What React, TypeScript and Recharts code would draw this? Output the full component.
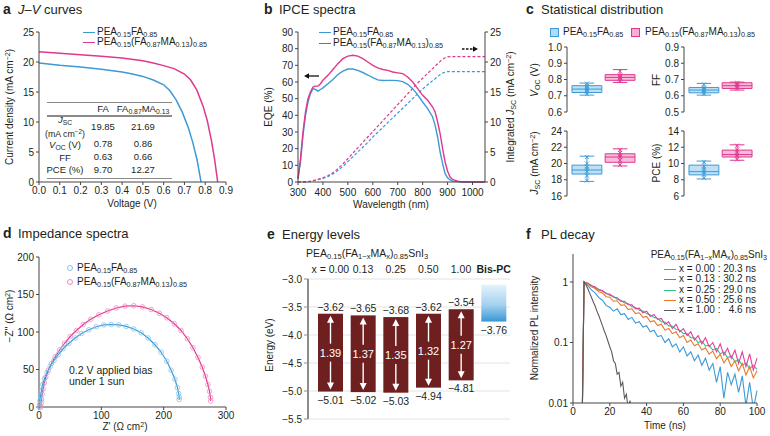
import React from "react";
import {
  LineChart,
  Line,
  XAxis,
  YAxis,
  ScatterChart,
  Scatter,
  ComposedChart,
  BarChart,
  Bar,
  ReferenceArea,
  ReferenceLine,
  CartesianGrid,
} from "recharts";

const FONT = "'Liberation Sans', Arial, Helvetica, sans-serif";
const TXT = "#231f20";
const AXIS = "#444";
const BLUE = "#3d9ad6";
const PINK = "#e0378f";

// ---- a: J-V curves ----
const jvFaVoltage = [0, 0.1, 0.2, 0.3, 0.4, 0.45, 0.5, 0.55, 0.6, 0.63, 0.66, 0.69, 0.72, 0.74, 0.76, 0.78];
const jvFaCurrent = [19.85, 19.45, 19.15, 18.8, 18.35, 18.0, 17.6, 17.0, 16.2, 15.2, 13.7, 11.6, 8.9, 6.6, 3.8, 0];
const jvMaVoltage = [0, 0.1, 0.2, 0.3, 0.4, 0.5, 0.55, 0.6, 0.65, 0.7, 0.73, 0.76, 0.79, 0.81, 0.83, 0.845, 0.86];
const jvMaCurrent = [21.69, 21.45, 21.2, 20.95, 20.65, 20.2, 19.85, 19.4, 18.9, 18.0, 17.0, 15.3, 12.6, 10.2, 6.9, 3.8, 0];
const tableLabels = ["Jsc", "Voc", "FF", "PCE"];
const tableFa = ["19.85", "0.78", "0.63", "9.70"];
const tableMa = ["21.69", "0.86", "0.66", "12.27"];

// ---- b: IPCE ----
const eqeWl = [300, 310, 320, 330, 340, 350, 360, 370, 380, 390, 400, 420, 440, 460, 480, 500, 520, 540, 560, 580, 600, 620, 640, 660, 680, 700, 720, 740, 760, 780, 800, 820, 840, 850, 860, 870, 880, 890, 900, 910, 920, 940, 960, 1000, 1050];
const eqeFa = [2, 12, 28, 40, 48, 53, 56, 55.5, 54.5, 55.5, 56.5, 59, 61.5, 64.5, 66.5, 67.8, 67.8, 67, 65.7, 64.2, 62.6, 61.3, 60.9, 61, 61, 60.8, 60.2, 58.6, 56, 52.3, 48, 44, 39, 34, 27, 18, 11, 5, 2.5, 1.2, 0.5, 0.2, 0, 0, 0];
const eqeMa = [2, 14, 30, 42, 50, 54, 57, 57.5, 57.5, 59, 61, 64, 67.5, 71, 74, 75.5, 76, 75.5, 74, 72, 70, 68.5, 67.5, 67, 66, 65.5, 65, 63, 60, 56, 52, 49, 45, 42, 36, 29, 20, 12, 6.5, 3, 1.5, 0.5, 0.1, 0, 0];
const intFa = [0, 0, 0.01, 0.03, 0.07, 0.13, 0.2, 0.3, 0.4, 0.5, 0.6, 0.9, 1.35, 1.9, 2.6, 3.4, 4.2, 5.0, 5.8, 6.6, 7.5, 8.3, 9.1, 9.9, 10.7, 11.5, 12.3, 13.1, 13.9, 14.7, 15.5, 16.2, 16.9, 17.2, 17.6, 17.9, 18.15, 18.3, 18.4, 18.4, 18.4, 18.4, 18.4, 18.4, 18.4];
const intMa = [0, 0, 0.01, 0.03, 0.08, 0.14, 0.22, 0.32, 0.43, 0.55, 0.7, 1.05, 1.55, 2.2, 3.0, 3.9, 4.8, 5.7, 6.6, 7.5, 8.4, 9.3, 10.2, 11.1, 12.0, 12.9, 13.8, 14.7, 15.6, 16.5, 17.3, 18.1, 18.9, 19.3, 19.7, 20.1, 20.45, 20.7, 20.85, 20.9, 20.9, 20.9, 20.9, 20.9, 20.9];

// ---- c: statistics [min, q1, median, q3, max] ----
const vocFa = [0.704, 0.72, 0.741, 0.762, 0.778];
const vocMa = [0.782, 0.795, 0.813, 0.83, 0.861];
const ffFa = [0.604, 0.618, 0.635, 0.651, 0.676];
const ffMa = [0.635, 0.645, 0.662, 0.68, 0.684];
const jscFa = [17.8, 18.7, 19.2, 19.8, 20.9];
const jscMa = [19.7, 20.15, 20.8, 21.2, 21.8];
const pceFa = [8.1, 8.6, 9.0, 9.8, 10.3];
const pceMa = [10.4, 10.8, 11.1, 11.65, 12.3];
const vocFaPts = [0.71, 0.725, 0.735, 0.742, 0.75, 0.76, 0.775];
const vocMaPts = [0.79, 0.8, 0.81, 0.815, 0.825, 0.85];
const ffFaPts = [0.61, 0.625, 0.635, 0.64, 0.65, 0.67];
const ffMaPts = [0.645, 0.655, 0.665, 0.67, 0.68];
const jscFaPts = [17.9, 18.5, 19.0, 19.3, 19.6, 20.0, 20.8];
const jscMaPts = [19.8, 20.4, 20.8, 21.0, 21.3, 21.7];
const pceFaPts = [8.2, 8.7, 9.0, 9.3, 9.6, 10.2];
const pceMaPts = [10.5, 10.9, 11.1, 11.4, 11.7, 12.2];

// ---- d: impedance ----
const nyqFaRe = [0.5, 1, 1.5, 2.5, 4, 6, 9, 13, 18, 24, 31, 39, 48, 58, 68, 80, 92, 104, 116, 128, 140, 152, 164, 175, 186, 196, 205, 212, 218, 222, 224, 225, 225];
const nyqFaIm = [0, 4, 9, 15, 22, 30, 38, 46, 54, 62, 70, 78, 85, 92, 98, 103, 107, 109.5, 110, 109.5, 107.5, 104, 99, 92, 83, 73, 61, 49, 37, 26, 18, 13, 10];
const nyqMaRe = [3, 3.5, 4, 5, 6.5, 8.5, 11, 15, 20, 26, 33, 41, 50, 60, 71, 83, 96, 110, 124, 138, 152, 166, 180, 193, 205, 217, 228, 238, 247, 255, 262, 267, 271, 273.5, 275, 275.5];
const nyqMaIm = [0, 5, 10, 17, 24, 32, 40, 49, 58, 67, 76, 85, 94, 102, 110, 117, 123, 128, 132, 134.5, 135, 133.5, 130, 125, 119, 111, 102, 91, 79, 66, 53, 41, 30, 21, 13, 8];

// ---- e: energy levels ----
const energyCats = ["x = 0.00", "0.13", "0.25", "0.50", "1.00", "Bis-PC"];
const lumoLevels = [-3.62, -3.65, -3.68, -3.62, -3.54, -3.76];
const homoLevels = [-5.01, -5.02, -5.03, -4.94, -4.81, -3.1];
const gapValues = [1.39, 1.37, 1.35, 1.32, 1.27, 0];

// ---- f: PL decay ----
const plTime = [5, 6, 8, 10, 12, 14, 16, 18, 20, 22, 24, 26, 28, 30, 32, 34, 36, 38, 40, 42, 44, 46, 48, 50, 52, 54, 56, 58, 60, 62, 64, 66, 68, 70, 72, 74, 76, 78, 80, 82, 84, 86, 88, 90, 92, 94, 96, 98, 100];
const plX000 = [0.005, 1.0, 0.88, 0.74, 0.66, 0.55, 0.5, 0.41, 0.38, 0.33, 0.36, 0.29, 0.3, 0.24, 0.26, 0.21, 0.22, 0.18, 0.19, 0.15, 0.16, 0.125, 0.13, 0.1, 0.115, 0.085, 0.095, 0.07, 0.085, 0.06, 0.07, 0.05, 0.062, 0.042, 0.055, 0.035, 0.045, 0.022, 0.04, 0.012, 0.032, 0.02, 0.03, 0.015, 0.028, 0.009, 0.022, 0.008, 0.016];
const plX013 = [0.005, 1.0, 0.96, 0.86, 0.83, 0.74, 0.72, 0.64, 0.63, 0.56, 0.55, 0.48, 0.48, 0.42, 0.42, 0.36, 0.37, 0.31, 0.33, 0.27, 0.29, 0.24, 0.25, 0.2, 0.22, 0.17, 0.2, 0.15, 0.17, 0.13, 0.15, 0.11, 0.13, 0.095, 0.12, 0.085, 0.1, 0.07, 0.095, 0.062, 0.08, 0.055, 0.075, 0.045, 0.07, 0.04, 0.065, 0.035, 0.055];
const plX025 = [0.005, 1.0, 0.94, 0.88, 0.8, 0.76, 0.7, 0.66, 0.6, 0.58, 0.52, 0.5, 0.45, 0.44, 0.39, 0.38, 0.34, 0.33, 0.3, 0.285, 0.26, 0.25, 0.22, 0.215, 0.19, 0.185, 0.165, 0.16, 0.14, 0.14, 0.12, 0.12, 0.1, 0.105, 0.088, 0.09, 0.075, 0.08, 0.065, 0.07, 0.056, 0.06, 0.048, 0.052, 0.042, 0.046, 0.037, 0.042, 0.036];
const plX050 = [0.005, 1.0, 0.92, 0.83, 0.78, 0.69, 0.66, 0.57, 0.56, 0.48, 0.49, 0.41, 0.42, 0.35, 0.36, 0.3, 0.31, 0.26, 0.27, 0.22, 0.23, 0.19, 0.2, 0.16, 0.17, 0.14, 0.15, 0.12, 0.13, 0.1, 0.11, 0.088, 0.095, 0.075, 0.082, 0.064, 0.072, 0.054, 0.064, 0.046, 0.056, 0.04, 0.05, 0.034, 0.045, 0.029, 0.04, 0.026, 0.034];
const plGrayTime = [5, 6, 7, 8, 9, 10, 11, 12, 13, 14, 15, 16, 17, 18, 19, 20, 21, 22, 23, 24, 25, 26, 27, 28, 29, 30, 31, 32];
const plX100 = [0.005, 1.0, 0.9, 0.78, 0.66, 0.56, 0.47, 0.4, 0.33, 0.28, 0.23, 0.19, 0.155, 0.13, 0.105, 0.085, 0.07, 0.05, 0.045, 0.03, 0.032, 0.019, 0.022, 0.012, 0.014, 0.008, 0.011, 0.006];
const plLabels = ["x = 0.00 : 20.3 ns", "x = 0.13 : 30.2 ns", "x = 0.25 : 29.0 ns", "x = 0.50 : 25.6 ns", "x = 1.00 :   4.6 ns"];
const plColors = ["#3b9ad9", "#e0409a", "#2ec48c", "#e8792a", "#5a5a5a"];

const tickStyle = { fontSize: 10, fill: TXT, fontFamily: FONT };

const S = ({ children }: { children: React.ReactNode }) => (
  <span style={{ fontSize: "0.72em", position: "relative", top: "0.32em" }}>{children}</span>
);
const P = ({ children }: { children: React.ReactNode }) => (
  <span style={{ fontSize: "0.72em", position: "relative", top: "-0.45em" }}>{children}</span>
);
const FaName = () => (
  <>PEA<S>0.15</S>FA<S>0.85</S></>
);
const MaName = () => (
  <>PEA<S>0.15</S>(FA<S>0.87</S>MA<S>0.13</S>)<S>0.85</S></>
);
const SnName = () => (
  <>PEA<S>0.15</S>(FA<S>1−x</S>MA<S>x</S>)<S>0.85</S>SnI<S>3</S></>
);

function Txt({ x, y, size = 10, anchor = "start", weight, italic, children, color = TXT }: any) {
  const tx = anchor === "middle" ? "-50%" : anchor === "end" ? "-100%" : "0";
  return (
    <div
      style={{
        position: "absolute",
        left: x,
        top: y,
        transform: `translate(${tx}, -50%)`,
        fontSize: size,
        lineHeight: 1,
        whiteSpace: "pre",
        fontWeight: weight,
        fontStyle: italic ? "italic" : undefined,
        color,
      }}
    >
      {children}
    </div>
  );
}

function VTxt({ x, y, size = 10, children }: any) {
  return (
    <div
      style={{
        position: "absolute",
        left: x,
        top: y,
        transform: "translate(-50%, -50%) rotate(-90deg)",
        fontSize: size,
        lineHeight: 1,
        whiteSpace: "pre",
        color: TXT,
      }}
    >
      {children}
    </div>
  );
}

function Title({ x, y, letter, children }: any) {
  return (
    <>
      <Txt x={x} y={y} size={14} weight="bold">{letter}</Txt>
      <Txt x={x + 15} y={y} size={13}>{children}</Txt>
    </>
  );
}

function LineKey({ x, y, color, dashed }: any) {
  return (
    <div
      style={{
        position: "absolute",
        left: x,
        top: y - 1,
        width: 12,
        height: 0,
        borderTop: `1.5px ${dashed ? "dashed" : "solid"} ${color}`,
      }}
    />
  );
}

const axisCommon = {
  tick: tickStyle,
  tickSize: 3,
  stroke: AXIS,
  axisLine: { stroke: AXIS },
  tickLine: { stroke: AXIS },
};

function PanelA() {
  const fa = jvFaVoltage.map((v, i) => ({ v, j: jvFaCurrent[i] }));
  const ma = jvMaVoltage.map((v, i) => ({ v, j: jvMaCurrent[i] }));
  const rowY = [127, 144, 157, 170];
  const ts = 9.5;
  return (
    <>
      <div style={{ position: "absolute", left: 0, top: 0 }}>
        <LineChart width={255} height={215} margin={{ top: 32, right: 29, bottom: 13, left: 9 }}>
          <XAxis type="number" dataKey="v" domain={[0, 0.9]} ticks={[0, 0.1, 0.2, 0.3, 0.4, 0.5, 0.6, 0.7, 0.8, 0.9]} tickFormatter={(v: number) => v.toFixed(1)} height={20} {...axisCommon} />
          <YAxis type="number" domain={[0, 25]} ticks={[0, 5, 10, 15, 20, 25]} width={30} {...axisCommon} />
          <Line data={fa} dataKey="j" stroke={BLUE} strokeWidth={1.5} dot={false} isAnimationActive={false} />
          <Line data={ma} dataKey="j" stroke={PINK} strokeWidth={1.5} dot={false} isAnimationActive={false} />
        </LineChart>
      </div>
      <Title x={3} y={9} letter="a"><i>J</i>–<i>V</i> curves</Title>
      <VTxt x={10} y={107}>Current density (mA cm<P>−2</P>)</VTxt>
      <Txt x={132} y={204} anchor="middle">Voltage (V)</Txt>
      <LineKey x={83} y={33} color={BLUE} />
      <Txt x={97} y={32}><FaName /></Txt>
      <LineKey x={83} y={43} color={PINK} />
      <Txt x={97} y={42}><MaName /></Txt>
      {/* table */}
      <div style={{ position: "absolute", left: 47, top: 102, width: 125, borderTop: "1.5px solid #8a8a8a" }} />
      <div style={{ position: "absolute", left: 47, top: 115, width: 125, borderTop: "2px solid #8a8a8a" }} />
      <div style={{ position: "absolute", left: 47, top: 178, width: 125, borderTop: "1.5px solid #8a8a8a" }} />
      <Txt x={103} y={108.5} anchor="middle" size={ts}>FA</Txt>
      <Txt x={143} y={108.5} anchor="middle" size={ts}>FA<S>0.87</S>MA<S>0.13</S></Txt>
      <Txt x={65} y={120} anchor="middle" size={ts}><i>J</i><S>SC</S></Txt>
      <Txt x={65} y={133.5} anchor="middle" size={8.8}>(mA cm<P>−2</P>)</Txt>
      <Txt x={65} y={145} anchor="middle" size={ts}><i>V</i><S>OC</S> (V)</Txt>
      <Txt x={65} y={157.5} anchor="middle" size={ts}>{tableLabels[2]}</Txt>
      <Txt x={65} y={170} anchor="middle" size={ts}>{tableLabels[3]} (%)</Txt>
      {tableFa.map((t, i) => (
        <Txt key={"fa" + i} x={103} y={rowY[i]} anchor="middle" size={ts}>{t}</Txt>
      ))}
      {tableMa.map((t, i) => (
        <Txt key={"ma" + i} x={143} y={rowY[i]} anchor="middle" size={ts}>{t}</Txt>
      ))}
    </>
  );
}

function PanelB() {
  const rows = eqeWl.map((w, i) => ({ w, eqeFa: eqeFa[i], eqeMa: eqeMa[i], intFa: intFa[i], intMa: intMa[i] }));
  return (
    <>
      <div style={{ position: "absolute", left: 255, top: 0 }}>
        <LineChart width={270} height={215} data={rows} margin={{ top: 32, right: 10, bottom: 13, left: 13 }}>
          <XAxis type="number" dataKey="w" domain={[300, 1050]} ticks={[300, 400, 500, 600, 700, 800, 900, 1000]} height={20} {...axisCommon} tickMargin={4} />
          <YAxis yAxisId="l" type="number" domain={[0, 90]} ticks={[0, 10, 20, 30, 40, 50, 60, 70, 80, 90]} width={30} {...axisCommon} />
          <YAxis yAxisId="r" orientation="right" type="number" domain={[0, 25]} ticks={[0, 5, 10, 15, 20, 25]} width={30} {...axisCommon} />
          <Line yAxisId="r" dataKey="intFa" stroke={BLUE} strokeWidth={1.2} strokeDasharray="3 2" dot={false} isAnimationActive={false} />
          <Line yAxisId="r" dataKey="intMa" stroke={PINK} strokeWidth={1.2} strokeDasharray="3 2" dot={false} isAnimationActive={false} />
          <Line yAxisId="l" dataKey="eqeFa" stroke={BLUE} strokeWidth={1.4} dot={false} isAnimationActive={false} />
          <Line yAxisId="l" dataKey="eqeMa" stroke={PINK} strokeWidth={1.4} dot={false} isAnimationActive={false} />
        </LineChart>
      </div>
      <Title x={264} y={9} letter="b">IPCE spectra</Title>
      <VTxt x={269} y={107}>EQE (%)</VTxt>
      <VTxt x={511} y={107}>Integrated <i>J</i><S>SC</S> (mA cm<P>−2</P>)</VTxt>
      <Txt x={391} y={205} anchor="middle">Wavelength (nm)</Txt>
      <LineKey x={319} y={33} color={BLUE} />
      <Txt x={333} y={32}><FaName /></Txt>
      <LineKey x={319} y={44} color={PINK} />
      <Txt x={333} y={43}><MaName /></Txt>
      <svg style={{ position: "absolute", left: 300, top: 40 }} width={185} height={45}>
        <line x1={8} y1={36} x2={19} y2={36} stroke="#111" strokeWidth={1.3} />
        <polygon points="4,36 9,33.3 9,38.7" fill="#111" />
        <line x1={162} y1={9} x2={173} y2={9} stroke="#111" strokeWidth={1.3} strokeDasharray="2.5 1.5" />
        <polygon points="178,9 173,6.3 173,11.7" fill="#111" />
      </svg>
    </>
  );
}

const Cross = (color: string) => (props: any) => {
  const { cx, cy } = props;
  return (
    <g stroke={color} strokeWidth={0.9}>
      <line x1={cx - 2} y1={cy - 2} x2={cx + 2} y2={cy + 2} />
      <line x1={cx - 2} y1={cy + 2} x2={cx + 2} y2={cy - 2} />
    </g>
  );
};

function BoxPanel({ left, top, domain, ticks, fmt, fa, ma, faPts, maPts }: any) {
  const groups = [
    { g: 0.6, s: fa, pts: faPts, color: BLUE, fill: "#b3daf3" },
    { g: 1.6, s: ma, pts: maPts, color: PINK, fill: "#f4b0d2" },
  ];
  const hw = 0.45;
  const cw = 0.22;
  return (
    <div style={{ position: "absolute", left, top }}>
      <ComposedChart width={130} height={80} margin={{ top: 7, right: 20, bottom: 8, left: 7 }}>
        <XAxis type="number" dataKey="g" domain={[0, 2.2]} hide />
        <YAxis type="number" dataKey="val" domain={domain} ticks={ticks} tickFormatter={fmt} width={30} {...axisCommon} />
        {groups.map((b) => (
          <ReferenceLine key={"wl" + b.g} segment={[{ x: b.g, y: b.s[0] }, { x: b.g, y: b.s[4] }]} stroke={b.color} strokeWidth={1} ifOverflow="visible" />
        ))}
        {groups.map((b) => (
          <ReferenceLine key={"c0" + b.g} segment={[{ x: b.g - cw, y: b.s[0] }, { x: b.g + cw, y: b.s[0] }]} stroke={b.color} strokeWidth={1} ifOverflow="visible" />
        ))}
        {groups.map((b) => (
          <ReferenceLine key={"c4" + b.g} segment={[{ x: b.g - cw, y: b.s[4] }, { x: b.g + cw, y: b.s[4] }]} stroke={b.color} strokeWidth={1} ifOverflow="visible" />
        ))}
        {groups.map((b) => (
          <ReferenceArea key={"bx" + b.g} x1={b.g - hw} x2={b.g + hw} y1={b.s[1]} y2={b.s[3]} fill={b.fill} fillOpacity={0.85} stroke={b.color} strokeWidth={1} ifOverflow="visible" />
        ))}
        {groups.map((b) => (
          <ReferenceLine key={"md" + b.g} segment={[{ x: b.g - hw, y: b.s[2] }, { x: b.g + hw, y: b.s[2] }]} stroke={b.color} strokeWidth={1} ifOverflow="visible" />
        ))}
        {groups.map((b) => (
          <Scatter key={"pt" + b.g} data={b.pts.map((v: number) => ({ g: b.g, val: v }))} shape={Cross(b.color)} isAnimationActive={false} />
        ))}
      </ComposedChart>
    </div>
  );
}

function PanelC() {
  const f1 = (v: number) => v.toFixed(1);
  const f0 = (v: number) => String(v);
  return (
    <>
      <Title x={526} y={9} letter="c">Statistical distribution</Title>
      <div style={{ position: "absolute", left: 550, top: 28, width: 7, height: 7, background: "#b3daf3", border: `1px solid ${BLUE}` }} />
      <Txt x={563} y={32}><FaName /></Txt>
      <div style={{ position: "absolute", left: 631, top: 28, width: 7, height: 7, background: "#f4b0d2", border: `1px solid ${PINK}` }} />
      <Txt x={645} y={32}><MaName /></Txt>
      <BoxPanel left={530} top={40} domain={[0.6, 1.0]} ticks={[0.6, 0.7, 0.8, 0.9, 1.0]} fmt={f1} fa={vocFa} ma={vocMa} faPts={vocFaPts} maPts={vocMaPts} />
      <BoxPanel left={647} top={40} domain={[0.5, 0.9]} ticks={[0.5, 0.6, 0.7, 0.8, 0.9]} fmt={f1} fa={ffFa} ma={ffMa} faPts={ffFaPts} maPts={ffMaPts} />
      <BoxPanel left={530} top={124} domain={[16, 24]} ticks={[16, 18, 20, 22, 24]} fmt={f0} fa={jscFa} ma={jscMa} faPts={jscFaPts} maPts={jscMaPts} />
      <BoxPanel left={647} top={124} domain={[6, 14]} ticks={[6, 8, 10, 12, 14]} fmt={f0} fa={pceFa} ma={pceMa} faPts={pceFaPts} maPts={pceMaPts} />
      <VTxt x={535} y={80}><i>V</i><S>OC</S> (V)</VTxt>
      <VTxt x={657} y={80}>FF</VTxt>
      <VTxt x={535} y={163}><i>J</i><S>SC</S> (mA cm<P>−2</P>)</VTxt>
      <VTxt x={657} y={163}>PCE (%)</VTxt>
    </>
  );
}

const Ring = (color: string) => (props: any) => {
  const { cx, cy } = props;
  return <circle cx={cx} cy={cy} r={2.3} fill="none" stroke={color} strokeWidth={0.8} />;
};

function PanelD() {
  const fa = nyqFaRe.map((x, i) => ({ x, y: nyqFaIm[i] }));
  const ma = nyqMaRe.map((x, i) => ({ x, y: nyqMaIm[i] }));
  return (
    <>
      <div style={{ position: "absolute", left: 0, top: 215 }}>
        <ScatterChart width={255} height={221} margin={{ top: 42, right: 29, bottom: 9, left: 9 }}>
          <XAxis type="number" dataKey="x" domain={[0, 300]} ticks={[0, 100, 200, 300]} height={20} {...axisCommon} />
          <YAxis type="number" dataKey="y" domain={[0, 200]} ticks={[0, 50, 100, 150, 200]} width={30} {...axisCommon} />
          <Scatter data={ma} shape={Ring("#ee8cbe")} line={{ stroke: PINK, strokeWidth: 1.2 }} lineType="joint" isAnimationActive={false} />
          <Scatter data={fa} shape={Ring("#86c3ec")} line={{ stroke: BLUE, strokeWidth: 1.2 }} lineType="joint" isAnimationActive={false} />
        </ScatterChart>
      </div>
      <Title x={3} y={233} letter="d">Impedance spectra</Title>
      <VTxt x={10} y={316}>−Z'' (Ω cm<P>2</P>)</VTxt>
      <Txt x={125} y={427} anchor="middle">Z' (Ω cm<P>2</P>)</Txt>
      <svg style={{ position: "absolute", left: 66, top: 264 }} width={10} height={24}>
        <circle cx={4} cy={4} r={2.5} fill="none" stroke="#86c3ec" strokeWidth={1} />
        <circle cx={4} cy={18} r={2.5} fill="none" stroke="#ee8cbe" strokeWidth={1} />
      </svg>
      <Txt x={77} y={268}><FaName /></Txt>
      <Txt x={77} y={282}><MaName /></Txt>
      <Txt x={69} y={370} size={10.5}>0.2 V applied bias</Txt>
      <Txt x={69} y={381} size={10.5}>under 1 sun</Txt>
    </>
  );
}

const fmtE = (v: number) => v.toFixed(2).replace("-", "−");

const EnergyBar = (props: any) => {
  const { x, y, width, height, payload } = props;
  const top = Math.min(y, y + height);
  const h = Math.abs(height);
  const cx = x + width / 2;
  if (payload.cat === "Bis-PC") {
    return (
      <g>
        <defs>
          <linearGradient id="bisGrad" x1="0" y1="0" x2="0" y2="1">
            <stop offset="0%" stopColor="#e6f3fb" />
            <stop offset="55%" stopColor="#a3d1ef" />
            <stop offset="100%" stopColor="#3897d4" />
          </linearGradient>
        </defs>
        <rect x={x} y={top} width={width} height={h} fill="url(#bisGrad)" />
        <text x={cx} y={top + h + 12} textAnchor="middle" fontSize={10.5} fontFamily={FONT} fill={TXT}>
          {fmtE(payload.lumo)}
        </text>
      </g>
    );
  }
  const mid = top + h / 2;
  return (
    <g>
      <rect x={x} y={top} width={width} height={h} fill="#6e1f1f" />
      <line x1={cx} y1={top + 5} x2={cx} y2={mid - 9} stroke="#fff" strokeWidth={1.4} />
      <line x1={cx} y1={mid + 9} x2={cx} y2={top + h - 5} stroke="#fff" strokeWidth={1.4} />
      <polygon points={`${cx},${top + 2} ${cx - 3.5},${top + 9} ${cx + 3.5},${top + 9}`} fill="#fff" />
      <polygon points={`${cx},${top + h - 2} ${cx - 3.5},${top + h - 9} ${cx + 3.5},${top + h - 9}`} fill="#fff" />
      <text x={cx} y={mid + 4} textAnchor="middle" fontSize={11} fontFamily={FONT} fill="#fff">
        {payload.gap.toFixed(2)}
      </text>
      <text x={cx} y={top - 3} textAnchor="middle" fontSize={10.5} fontFamily={FONT} fill={TXT}>
        {fmtE(payload.lumo)}
      </text>
      <text x={cx} y={top + h + 12} textAnchor="middle" fontSize={10.5} fontFamily={FONT} fill={TXT}>
        {fmtE(payload.homo)}
      </text>
    </g>
  );
};

const EnergyTick = (props: any) => {
  const { x, y, payload } = props;
  return (
    <text x={x} y={y} textAnchor="middle" fontSize={10.5} fontFamily={FONT} fill={TXT} fontWeight={payload.value === "Bis-PC" ? "bold" : "normal"}>
      {payload.value}
    </text>
  );
};

function PanelE() {
  const rows = energyCats.map((cat, i) => ({
    cat,
    range: [homoLevels[i], lumoLevels[i]].sort((a, b) => a - b),
    lumo: lumoLevels[i],
    homo: homoLevels[i],
    gap: gapValues[i],
  }));
  return (
    <>
      <div style={{ position: "absolute", left: 255, top: 215 }}>
        <BarChart width={260} height={221} data={rows} margin={{ top: 44, right: 5, bottom: 17, left: 13 }}>
          <CartesianGrid vertical={false} stroke="#e3e3e3" />
          <XAxis dataKey="cat" orientation="top" axisLine={false} tickLine={false} tickSize={4} tickMargin={2} height={20} padding={{ left: 6, right: 0 }} tick={<EnergyTick />} interval={0} />
          <YAxis type="number" domain={[-5.5, -3.0]} ticks={[-5.5, -5.0, -4.5, -4.0, -3.5, -3.0]} tickFormatter={(v: number) => v.toFixed(1).replace("-", "−")} width={40} tick={tickStyle} tickSize={4} axisLine={{ stroke: "#8c8c8c", strokeWidth: 2 }} tickLine={{ stroke: "#8c8c8c" }} />
          <Bar dataKey="range" barSize={25} shape={<EnergyBar />} isAnimationActive={false} />
        </BarChart>
      </div>
      <Title x={267} y={234} letter="e">Energy levels</Title>
      <Txt x={306} y={253} size={10.5}><SnName /></Txt>
      <VTxt x={270} y={345}>Energy (eV)</VTxt>
    </>
  );
}

function PanelF() {
  const series = [plX000, plX013, plX025, plX050];
  const drawOrder = [0, 2, 1, 3];
  return (
    <>
      <div style={{ position: "absolute", left: 520, top: 215 }}>
        <LineChart width={250} height={221} margin={{ top: 39, right: 13, bottom: 13, left: 23 }}>
          <XAxis type="number" dataKey="t" domain={[0, 100]} ticks={[0, 20, 40, 60, 80, 100]} height={20} {...axisCommon} />
          <YAxis type="number" scale="log" domain={[0.01, 2.9]} allowDataOverflow ticks={[0.01, 0.1, 1]} tickFormatter={(v: number) => String(v)} width={30} {...axisCommon} />
          {drawOrder.map((k) => (
            <Line
              key={k}
              data={plTime.map((t, i) => ({ t, v: series[k][i] }))}
              dataKey="v"
              stroke={plColors[k]}
              strokeWidth={1.1}
              dot={false}
              isAnimationActive={false}
            />
          ))}
          <Line data={plGrayTime.map((t, i) => ({ t, v: plX100[i] }))} dataKey="v" stroke={plColors[4]} strokeWidth={1.1} dot={false} isAnimationActive={false} />
        </LineChart>
      </div>
      <Title x={526} y={234} letter="f">PL decay</Title>
      <VTxt x={535} y={328}>Normalized PL intensity</VTxt>
      <Txt x={665} y={426} anchor="middle">Time (ns)</Txt>
      <Txt x={767} y={255} anchor="end" size={10}><SnName /></Txt>
      {plLabels.map((l, i) => (
        <React.Fragment key={l}>
          <LineKey x={664} y={270 + i * 10.3} color={plColors[i]} />
          <Txt x={679} y={269 + i * 10.3}>{l}</Txt>
        </React.Fragment>
      ))}
    </>
  );
}

export default function App() {
  return (
    <div
      style={{
        position: "fixed",
        left: 0,
        top: 0,
        width: 770,
        height: 436,
        background: "#fff",
        fontFamily: FONT,
        overflow: "hidden",
        color: TXT,
      }}
    >
      <PanelA />
      <PanelB />
      <PanelC />
      <PanelD />
      <PanelE />
      <PanelF />
    </div>
  );
}
